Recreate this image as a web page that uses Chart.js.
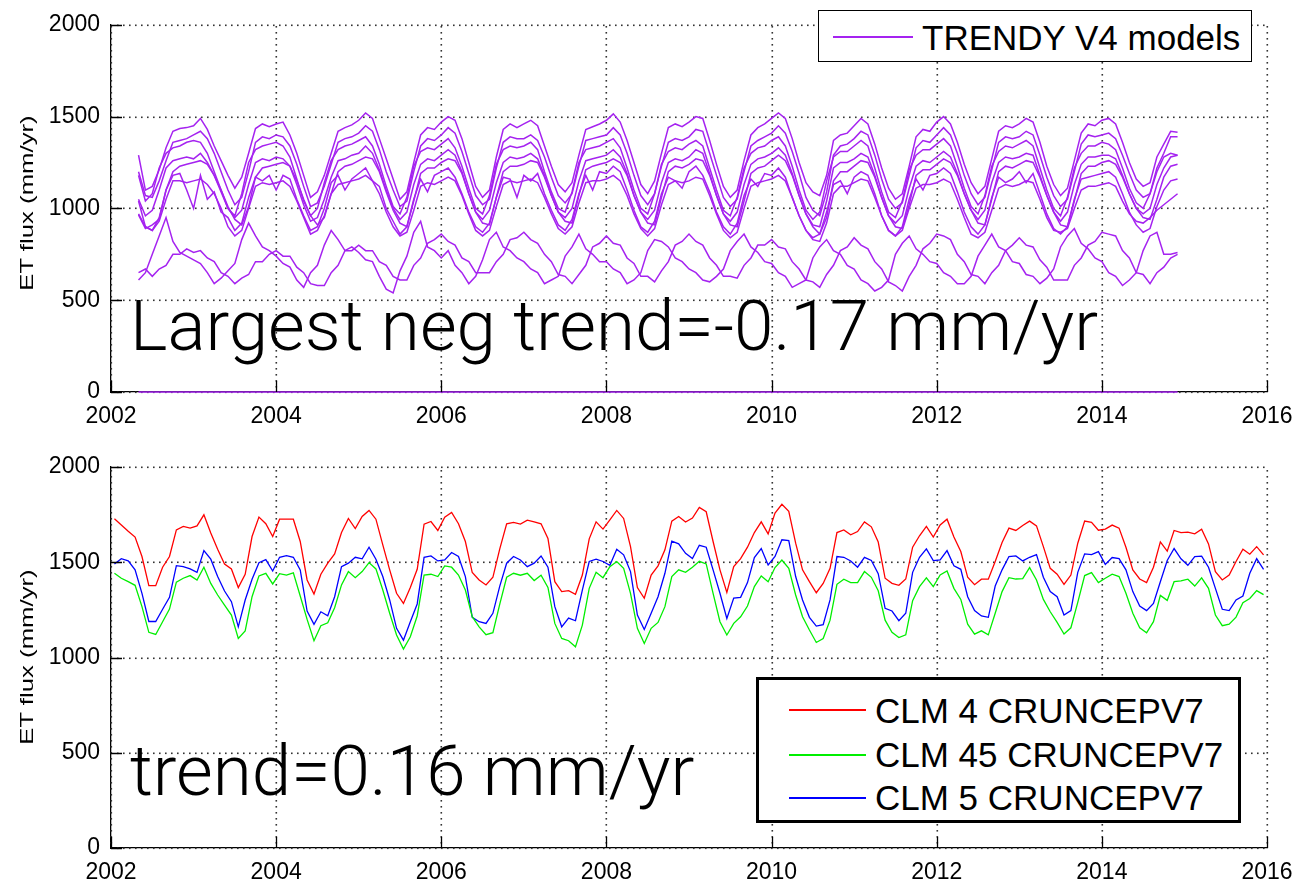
<!DOCTYPE html>
<html>
<head>
<meta charset="utf-8">
<script src="https://cdn.jsdelivr.net/npm/chart.js@4.4.1/dist/chart.umd.min.js"></script>
<style>
    body { margin: 0; background: #fff; width: 1305px; height: 886px; overflow: hidden; position: relative;
           font-family: "Liberation Sans", Arial, Helvetica, sans-serif; }
    canvas { position: absolute; left: 0; }
    .txt { position: absolute; white-space: nowrap; color: #000; line-height: 1; }
    .big { font-family: Roboto, Lato, "Open Sans", sans-serif; font-weight: 300; }
    .box { position: absolute; border: 1.5px solid #000; background: #fff; box-sizing: border-box; }
    .sample { position: absolute; height: 1.5px; }
    .ylab { position: absolute; font-size: 18px; white-space: nowrap; line-height: 1;
            transform: translate(-50%, -50%) rotate(-90deg) scaleX(1.43); }
</style>
</head>
<body>
<canvas id="topChart" width="1305" height="440" style="top:0"></canvas>
<canvas id="bottomChart" width="1305" height="446" style="top:440px"></canvas>

<div class="ylab" style="left:27px; top:203px">ET flux (mm/yr)</div>
<div class="ylab" style="left:27px; top:657px">ET flux (mm/yr)</div>

<div id="noteTop" class="txt big">Largest neg trend=-0.17 mm/yr</div>
<div id="noteBottom" class="txt big">trend=0.16 mm/yr</div>

<div class="box" style="left:818px; top:10px; width:434px; height:52px"></div>
<div class="sample" style="left:833px; top:36px; width:80px; background:rgb(165,35,240)"></div>
<div id="legTop" class="txt" style="font-size:35px">TRENDY V4 models</div>

<div class="box" style="left:756px; top:677px; width:485px; height:146px; border-width:3px"></div>
<div class="sample" style="left:789px; top:709px; width:77px; background:#ff0000"></div>
<div class="sample" style="left:789px; top:754px; width:77px; background:#00ee00"></div>
<div class="sample" style="left:789px; top:797px; width:77px; background:#0000ff"></div>
<div id="leg1" class="txt" style="font-size:35px">CLM 4 CRUNCEPV7</div>
<div id="leg2" class="txt" style="font-size:35px">CLM 45 CRUNCEPV7</div>
<div id="leg3" class="txt" style="font-size:35px">CLM 5 CRUNCEPV7</div>

<script>
// ---- TRENDY V4 models, monthly ET (mm/yr), May 2002 .. Dec 2014 ----
const trendy1 = [1290,1100,1120,1210,1330,1420,1435,1440,
    1450,1490,1430,1340,1260,1180,1110,1170,1300,1435,1460,1445,
    1460,1470,1400,1300,1180,1060,1090,1180,1300,1420,1440,1455,
    1480,1520,1490,1380,1270,1160,1050,1090,1250,1400,1440,1430,
    1470,1500,1480,1380,1250,1120,1060,1100,1280,1430,1460,1440,
    1460,1480,1450,1340,1230,1130,1090,1140,1290,1430,1445,1460,
    1480,1515,1470,1370,1250,1130,1080,1150,1300,1440,1460,1445,
    1470,1500,1490,1370,1240,1120,1060,1100,1260,1400,1440,1460,
    1490,1520,1490,1380,1250,1140,1090,1070,1180,1370,1400,1410,
    1450,1490,1460,1350,1220,1110,1050,1080,1230,1390,1430,1420,
    1470,1500,1460,1360,1240,1140,1080,1120,1270,1420,1450,1440,
    1460,1490,1470,1360,1230,1130,1070,1110,1260,1410,1460,1450,
    1480,1490,1460,1360,1250,1160,1120,1140,1280,1350,1420,1415];
const trendy2 = [1200,1070,1060,1150,1260,1360,1370,1380,
    1400,1420,1380,1300,1200,1100,1020,1060,1200,1360,1390,1380,
    1400,1390,1340,1240,1120,1010,1030,1120,1240,1360,1380,1390,
    1410,1450,1420,1320,1200,1100,1010,1040,1200,1340,1380,1370,
    1400,1440,1410,1310,1190,1070,1020,1050,1220,1360,1390,1380,
    1380,1400,1370,1280,1170,1070,1030,1080,1230,1370,1380,1390,
    1400,1440,1400,1300,1180,1070,1020,1080,1230,1360,1380,1370,
    1390,1430,1420,1300,1180,1060,1010,1050,1200,1340,1370,1390,
    1410,1450,1410,1310,1190,1060,990,960,1090,1290,1340,1350,
    1380,1420,1400,1290,1160,1050,1000,1030,1180,1330,1370,1360,
    1400,1440,1400,1300,1180,1080,1020,1060,1210,1360,1390,1380,
    1390,1420,1400,1290,1170,1070,1010,1050,1200,1350,1400,1390,
    1400,1410,1380,1290,1190,1100,1060,1080,1220,1300,1390,1390];
const trendy3 = [1180,1040,1080,1220,1300,1330,1340,1360,
    1370,1360,1300,1200,1100,1000,960,1080,1250,1320,1340,1350,
    1360,1340,1280,1160,1040,960,1000,1140,1260,1320,1340,1350,
    1370,1390,1340,1240,1120,1010,970,1060,1230,1310,1330,1320,
    1350,1380,1330,1230,1110,1000,970,1070,1240,1320,1340,1330,
    1340,1360,1320,1200,1090,1000,980,1090,1250,1320,1330,1340,
    1360,1380,1330,1220,1100,1000,970,1080,1240,1310,1330,1320,
    1350,1370,1340,1220,1100,990,960,1060,1220,1300,1330,1340,
    1370,1390,1340,1230,1100,990,940,980,1150,1280,1310,1310,
    1340,1370,1340,1220,1090,980,950,1040,1210,1290,1320,1320,
    1350,1380,1340,1230,1110,1010,970,1070,1230,1310,1340,1330,
    1350,1370,1340,1220,1100,1000,960,1060,1220,1300,1340,1340,
    1360,1350,1320,1220,1110,1030,1000,1080,1200,1280,1300,1290];
const trendy4 = [1050,960,990,1100,1220,1260,1270,1280,
    1270,1300,1250,1180,1090,1000,950,990,1130,1250,1270,1260,
    1280,1270,1230,1130,1020,930,950,1050,1170,1260,1270,1290,
    1300,1340,1300,1210,1100,1000,940,980,1130,1240,1270,1260,
    1290,1320,1290,1200,1080,980,940,990,1140,1250,1280,1270,
    1280,1300,1270,1180,1070,980,950,1000,1150,1260,1270,1280,
    1290,1320,1280,1190,1070,980,940,990,1140,1250,1270,1260,
    1280,1320,1300,1190,1070,970,930,980,1130,1240,1270,1280,
    1300,1330,1290,1190,1070,970,910,900,1040,1220,1250,1250,
    1270,1300,1280,1180,1060,960,920,960,1110,1230,1260,1250,
    1280,1310,1280,1190,1080,990,940,990,1140,1250,1280,1270,
    1280,1300,1290,1180,1070,980,930,980,1130,1240,1280,1280,
    1290,1290,1270,1180,1080,1000,970,1000,1130,1220,1280,1290];
const trendy5 = [970,900,880,950,1100,1200,1230,1240,
    1250,1260,1240,1180,1100,1010,940,910,1010,1170,1220,1230,
    1240,1250,1230,1150,1050,960,910,950,1080,1200,1230,1240,
    1260,1280,1270,1200,1090,990,920,900,1040,1190,1220,1220,
    1250,1270,1260,1190,1080,980,920,910,1060,1200,1230,1230,
    1240,1260,1250,1170,1070,980,930,920,1070,1210,1230,1240,
    1250,1270,1250,1180,1070,980,920,910,1060,1200,1230,1220,
    1240,1270,1260,1180,1070,970,910,900,1040,1190,1220,1230,
    1260,1290,1260,1180,1070,970,900,860,950,1150,1200,1200,
    1230,1260,1250,1170,1060,960,900,890,1020,1180,1210,1210,
    1240,1270,1250,1180,1080,990,920,910,1050,1200,1230,1220,
    1240,1260,1250,1170,1070,980,910,900,1040,1190,1230,1230,
    1250,1260,1240,1170,1080,1000,950,940,1050,1170,1230,1240];
const trendy6 = [965,890,910,940,1100,1180,1190,1100,
    1000,1180,1050,1090,980,950,880,920,1060,1170,1150,1180,
    1100,1180,1160,1050,960,880,900,1000,1140,1180,1100,1160,
    1190,1220,1150,1120,1000,930,860,900,1050,1160,1090,1180,
    1200,1220,1170,1080,980,900,870,920,1060,1170,1160,1060,
    1180,1150,1190,1080,990,910,880,940,1080,1180,1100,1200,
    1190,1230,1200,1100,990,900,870,930,1080,1170,1150,1110,
    1200,1230,1180,1090,980,900,860,920,1070,1160,1120,1190,
    1180,1220,1170,1060,960,880,840,860,980,1130,1150,1080,
    1170,1200,1180,1080,960,880,850,900,1050,1160,1100,1180,
    1190,1220,1190,1090,980,900,860,910,1060,1170,1140,1160,
    1200,1140,1190,1080,970,890,860,900,1050,1160,1170,1180,
    1190,1200,1170,1080,980,910,870,890,1010,1100,1150,1160];
const trendy7 = [1040,900,880,930,1050,1150,1150,1140,
    1150,1160,1130,1080,1000,900,850,880,1000,1120,1140,1130,
    1140,1150,1120,1040,950,860,880,960,1080,1130,1140,1150,
    1160,1180,1150,1080,980,900,850,870,990,1120,1140,1130,
    1150,1170,1150,1070,970,880,850,880,1010,1130,1150,1140,
    1150,1160,1140,1060,970,890,860,900,1030,1140,1150,1150,
    1160,1180,1150,1070,970,890,850,890,1020,1130,1150,1140,
    1150,1170,1160,1070,970,880,840,870,1000,1120,1140,1150,
    1160,1180,1150,1060,960,880,830,820,920,1080,1120,1120,
    1140,1160,1150,1060,960,880,850,880,1000,1110,1130,1130,
    1140,1160,1140,1050,950,860,840,870,990,1110,1130,1120,
    1130,1150,1140,1050,950,880,870,890,1000,1100,1120,1120,
    1130,1140,1120,1040,970,930,920,950,990,1020,1050,1080];
const trendy8 = [610,650,750,850,950,820,760,740,
    720,700,650,590,620,660,700,830,920,850,790,770,
    740,700,680,610,570,650,690,800,880,830,770,790,
    760,720,710,630,560,540,660,740,870,930,790,770,
    730,770,690,650,590,630,720,830,870,790,770,730,
    710,670,650,590,610,630,740,790,860,780,750,710,
    710,670,650,590,610,650,770,830,820,790,730,710,
    670,650,610,600,630,670,770,820,860,790,760,710,
    700,650,630,570,590,610,730,790,830,770,750,690,
    670,610,590,550,570,610,750,810,850,780,750,710,
    700,650,630,590,590,630,740,800,860,790,770,710,
    700,640,630,590,620,670,790,850,890,810,780,730,
    710,650,630,580,610,650,770,850,870,750,750,760];
const trendy9 = [650,670,630,670,690,750,750,780,
    760,770,730,710,650,630,590,620,640,710,710,750,
    770,740,740,680,650,590,580,580,650,690,770,770,
    800,770,770,710,690,630,610,610,690,730,810,830,
    860,820,800,730,710,650,650,650,710,750,830,840,
    870,830,810,750,710,640,630,590,640,690,790,810,
    850,810,800,730,700,630,630,600,660,710,800,820,
    860,820,800,730,690,630,630,620,690,730,800,800,
    830,790,780,710,670,610,600,570,640,690,770,790,
    840,800,780,710,670,600,580,550,630,690,780,810,
    860,850,830,750,710,640,630,590,650,690,770,800,
    840,800,790,720,680,610,610,610,690,730,800,820,
    870,860,850,770,730,650,640,590,650,680,730,750];
const trendy10 = [0,0,0,0,0,0,0,0,
    0,0,0,0,0,0,0,0,0,0,0,0, 0,0,0,0,0,0,0,0,0,0,0,0,
    0,0,0,0,0,0,0,0,0,0,0,0, 0,0,0,0,0,0,0,0,0,0,0,0,
    0,0,0,0,0,0,0,0,0,0,0,0, 0,0,0,0,0,0,0,0,0,0,0,0,
    0,0,0,0,0,0,0,0,0,0,0,0, 0,0,0,0,0,0,0,0,0,0,0,0,
    0,0,0,0,0,0,0,0,0,0,0,0, 0,0,0,0,0,0,0,0,0,0,0,0,
    0,0,0,0,0,0,0,0,0,0,0,0, 0,0,0,0,0,0,0,0,0,0,0,0,
    0,0,0,0,0,0,0,0,0,0,0,0];

// ---- CLM runs, monthly ET (mm/yr), Jan 2002 .. Dec 2015 ----
const clm4 = [1728,1696,1663,1632,1530,1377,1377,1474,1530,1670,1688,1679,
    1691,1749,1653,1568,1491,1465,1367,1437,1635,1737,1702,1635,
    1726,1726,1726,1609,1407,1333,1437,1495,1544,1656,1730,1677,
    1740,1772,1726,1591,1460,1337,1284,1367,1463,1700,1714,1667,
    1737,1761,1702,1609,1446,1407,1381,1421,1570,1702,1709,1700,
    1721,1712,1702,1625,1398,1346,1351,1332,1433,1623,1712,1674,
    1723,1772,1730,1582,1367,1311,1433,1481,1565,1716,1740,1711,
    1732,1788,1765,1609,1460,1342,1477,1519,1579,1656,1712,1649,
    1758,1804,1767,1600,1460,1398,1340,1389,1468,1656,1670,1644,
    1661,1712,1686,1606,1416,1389,1379,1412,1579,1639,1688,1632,
    1696,1726,1632,1556,1421,1382,1411,1411,1504,1604,1679,1667,
    1693,1716,1691,1582,1468,1437,1384,1433,1600,1716,1709,1668,
    1674,1695,1679,1579,1460,1412,1393,1474,1607,1558,1667,1656,
    1658,1649,1674,1596,1451,1407,1433,1504,1568,1542,1582,1539];
const clm45 = [1442,1416,1398,1379,1267,1132,1121,1188,1254,1396,1416,1430,
    1407,1474,1389,1328,1275,1223,1100,1140,1319,1428,1442,1386,
    1440,1433,1444,1323,1200,1088,1167,1182,1261,1381,1451,1419,
    1451,1498,1465,1354,1232,1118,1044,1109,1218,1433,1437,1425,
    1481,1474,1433,1354,1214,1161,1120,1130,1280,1421,1442,1432,
    1442,1404,1432,1368,1179,1100,1088,1056,1170,1363,1447,1419,
    1477,1504,1468,1337,1153,1074,1153,1184,1267,1425,1460,1447,
    1474,1505,1491,1337,1188,1118,1179,1214,1270,1372,1428,1398,
    1472,1512,1468,1328,1214,1144,1079,1100,1196,1384,1411,1393,
    1393,1451,1421,1350,1196,1132,1105,1119,1298,1372,1418,1372,
    1433,1454,1363,1305,1175,1123,1140,1119,1232,1346,1419,1412,
    1414,1472,1407,1305,1240,1184,1123,1156,1289,1430,1446,1393,
    1416,1437,1425,1337,1232,1156,1130,1188,1326,1300,1398,1402,
    1411,1375,1418,1363,1223,1167,1175,1212,1288,1310,1351,1330];
const clm5 = [1491,1519,1507,1460,1337,1189,1189,1253,1316,1482,1477,1465,
    1447,1561,1516,1425,1349,1293,1161,1302,1411,1498,1514,1454,
    1526,1535,1526,1460,1244,1174,1240,1219,1319,1477,1495,1526,
    1518,1579,1516,1425,1302,1153,1091,1188,1281,1526,1533,1507,
    1512,1551,1530,1425,1211,1188,1179,1232,1375,1495,1530,1512,
    1477,1495,1533,1474,1267,1161,1207,1193,1354,1504,1516,1504,
    1484,1568,1539,1451,1223,1147,1232,1319,1442,1611,1597,1547,
    1519,1589,1579,1460,1337,1205,1312,1316,1393,1525,1572,1486,
    1530,1618,1614,1425,1302,1211,1165,1172,1302,1530,1526,1507,
    1474,1526,1509,1440,1258,1244,1193,1232,1447,1526,1570,1509,
    1512,1561,1481,1463,1319,1246,1218,1211,1375,1460,1530,1533,
    1507,1526,1540,1421,1346,1319,1223,1246,1447,1544,1540,1556,
    1489,1525,1519,1460,1346,1270,1246,1284,1398,1509,1572,1518,
    1484,1530,1532,1474,1363,1253,1246,1302,1323,1442,1519,1463];

const yearTicks = [2002, 2004, 2006, 2008, 2010, 2012, 2014, 2016];
const fluxTicks = [0, 500, 1000, 1500, 2000];

// time axes: TRENDY starts May 2002 (month 4 counted from Jan 2002), CLM is mid-month from Jan 2002
const topFirstMonth = 4;
const topX = trendy1.map((v, i) => 2002 + (topFirstMonth + i) / 12);
const bottomX = clm4.map((v, i) => 2002 + (i + 0.5) / 12);

const purple = 'rgb(165,35,240)';
const tickFont = { family: '"Liberation Sans", Arial, Helvetica, sans-serif', size: 23 };

function series(xs, ys) {
    return ys.map((v, i) => ({ x: xs[i], y: v }));
}

// MATLAB style: dotted grid and ticks pointing into the plot
const matlabAxes = {
    id: 'matlabAxes',
    beforeDatasetsDraw(chart) {
        const { ctx, chartArea: a, scales: { x, y } } = chart;
        ctx.save();
        ctx.fillStyle = '#333';
        // dotted grid, one small square every 6 px
        y.ticks.forEach(t => {
            const py = Math.round(y.getPixelForValue(t.value));
            for (let px = a.left + 6; px <= a.right; px += 6) ctx.fillRect(px, py - 0.5, 1.6, 1.6);
        });
        x.ticks.forEach(t => {
            const px = Math.round(x.getPixelForValue(t.value));
            for (let py = a.bottom - 6; py >= a.top; py -= 6) ctx.fillRect(px - 0.5, py, 1.6, 1.6);
        });
        ctx.restore();
    },
    afterDraw(chart) {
        const { ctx, chartArea: a, scales: { x, y } } = chart;
        ctx.save();
        ctx.strokeStyle = '#000';
        ctx.lineWidth = 1.3;
        ctx.beginPath();
        y.ticks.forEach(t => {
            const py = Math.round(y.getPixelForValue(t.value)) + 0.5;
            ctx.moveTo(a.left, py); ctx.lineTo(a.left + 11, py);
        });
        x.ticks.forEach(t => {
            const px = Math.round(x.getPixelForValue(t.value)) + 0.5;
            ctx.moveTo(px, a.bottom); ctx.lineTo(px, a.bottom - 11);
        });
        ctx.stroke();
        ctx.restore();
    }
};

function options(padTop, xAxisHeight) {
    return {
        responsive: false,
        animation: false,
        layout: { padding: { left: 0, right: 38, top: padTop, bottom: 0 } },
        plugins: { legend: { display: false }, tooltip: { enabled: false } },
        elements: { point: { radius: 0 }, line: { tension: 0 } },
        scales: {
            x: {
                type: 'linear', min: 2002, max: 2016,
                afterFit: s => { s.height = xAxisHeight; },
                afterBuildTicks: s => { s.ticks = yearTicks.map(v => ({ value: v })); },
                ticks: { callback: v => String(v), font: tickFont, color: '#000', padding: 11,
                         maxRotation: 0, autoSkip: false },
                grid: { display: false, drawTicks: false },
                border: { display: true, color: '#000', width: 1.3 }
            },
            y: {
                min: 0, max: 2000,
                afterFit: s => { s.width = 111; },
                afterBuildTicks: s => { s.ticks = fluxTicks.map(v => ({ value: v })); },
                ticks: { callback: v => String(v), font: tickFont, color: '#000', padding: 11 },
                grid: { display: false, drawTicks: false },
                border: { display: true, color: '#000', width: 1.3 }
            }
        }
    };
}

const trendy = [trendy1, trendy2, trendy3, trendy4, trendy5, trendy6, trendy7, trendy8, trendy9, trendy10];

new Chart(document.getElementById('topChart'), {
    type: 'line',
    data: {
        datasets: trendy.map(ys => ({
            data: series(topX, ys), borderColor: purple, borderWidth: 1.5, clip: 4
        }))
    },
    options: options(15, 48),
    plugins: [matlabAxes]
});

new Chart(document.getElementById('bottomChart'), {
    type: 'line',
    data: {
        datasets: [
            { label: 'CLM 4 CRUNCEPV7', data: series(bottomX, clm4), borderColor: '#ff0000', borderWidth: 1.3, clip: 4 },
            { label: 'CLM 45 CRUNCEPV7', data: series(bottomX, clm45), borderColor: '#00ee00', borderWidth: 1.3, clip: 4 },
            { label: 'CLM 5 CRUNCEPV7', data: series(bottomX, clm5), borderColor: '#0000ff', borderWidth: 1.3, clip: 4 }
        ]
    },
    options: options(27, 38),
    plugins: [matlabAxes]
});

// put a text element so that its baseline sits at y
function place(el, x, baseline) {
    const strut = document.createElement('span');
    strut.style.cssText = 'display:inline-block;width:0;height:0;vertical-align:baseline';
    el.appendChild(strut);
    el.style.left = x + 'px';
    el.style.top = (baseline - strut.offsetTop) + 'px';
}

// big annotation: fit the top line to its width in the reference
const noteTop = document.getElementById('noteTop');
const noteBottom = document.getElementById('noteBottom');
noteTop.style.fontSize = '100px';
const fitSize = 100 * 968 / noteTop.offsetWidth;
noteTop.style.fontSize = fitSize + 'px';
noteBottom.style.fontSize = fitSize + 'px';
place(noteTop, 130, 350);
place(noteBottom, 130, 795);

place(document.getElementById('legTop'), 922, 50);
place(document.getElementById('leg1'), 875, 723);
place(document.getElementById('leg2'), 875, 767);
place(document.getElementById('leg3'), 875, 810);
</script>
</body>
</html>
